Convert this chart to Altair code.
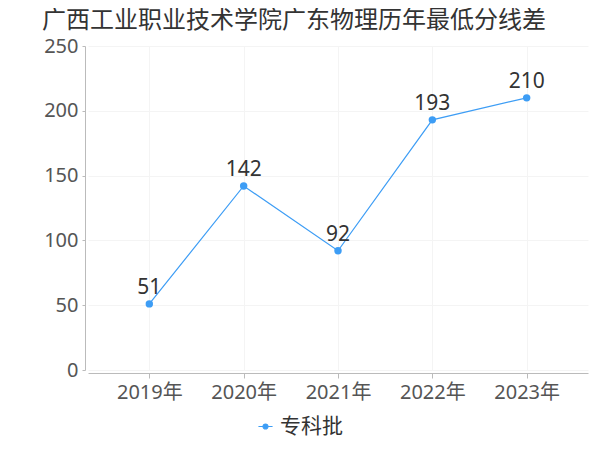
import altair as alt
import pandas as pd

years = ["2019年", "2020年", "2021年", "2022年", "2023年"]
scores = [51, 142, 92, 193, 210]
batch = ["专科批"] * 5

df = pd.DataFrame({"year": years, "score": scores, "batch": batch})

FONT = "Noto Sans, Noto Sans CJK SC"
BLUE = "#3d9df5"

x = alt.X("year:N", sort=years,
          scale=alt.Scale(type="point", padding=0.65),
          axis=alt.Axis(title=None, labelAngle=0, labelFontSize=20, labelColor="#555",
                        labelFont=FONT, grid=True, gridColor="#f4f4f4",
                        domainColor="#bbb", tickColor="#bbb", tickSize=5,
                        labelPadding=4, offset=3))
y = alt.Y("score:Q", scale=alt.Scale(domain=[0, 250]),
          axis=alt.Axis(title=None, values=[0, 50, 100, 150, 200, 250],
                        labelFontSize=20, labelColor="#555", labelFont=FONT,
                        gridColor="#f4f4f4", domainColor="#bbb", tickColor="#bbb",
                        tickSize=3, labelPadding=4, offset=3))

color = alt.Color("batch:N", scale=alt.Scale(range=[BLUE]),
                  legend=alt.Legend(title=None, orient="none", legendX=167, legendY=370,
                                    labelFontSize=21, labelColor="#333", labelFont=FONT,
                                    symbolType="M-1,0L-0.35,0M0.35,0L1,0M-0.35,0A0.35,0.35 0 1,1 0.35,0A0.35,0.35 0 1,1 -0.35,0Z",
                                    symbolSize=200, symbolStrokeWidth=1.2,
                                    symbolFillColor=BLUE, symbolStrokeColor=BLUE))

line = alt.Chart(df).mark_line(strokeWidth=1.2, point=alt.OverlayMarkDef(size=55, filled=True, opacity=1)).encode(
    x=x, y=y, color=color)

labels = alt.Chart(df).mark_text(dy=-16, fontSize=21, color="#333", font=FONT).encode(
    x=x, y=y, text="score:Q")

chart = (line + labels).properties(
    width=500, height=324,
    autosize=alt.AutoSizeParams(type="none"),
    padding={"left": 80, "top": 38, "right": 4, "bottom": 70},
    title=alt.TitleParams("广西工业职业技术学院广东物理历年最低分线差", anchor="start", frame="group",
                          fontSize=24, fontWeight="normal", color="#333",
                          font="Noto Sans CJK SC", dx=-46, offset=3),
).configure_view(stroke=None)

chart.save("out.html", embed_options={"renderer": "svg", "actions": False})
